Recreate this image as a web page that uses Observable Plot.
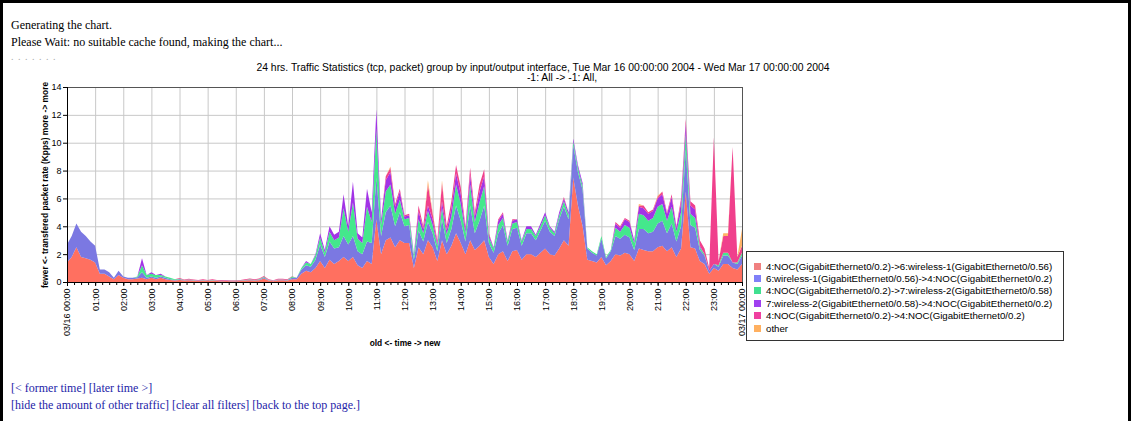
<!DOCTYPE html>
<html>
<head>
<meta charset="utf-8">
<script src="https://cdn.jsdelivr.net/npm/d3@7"></script>
<script src="https://cdn.jsdelivr.net/npm/@observablehq/plot@0.6"></script>
<style>
  html, body { margin: 0; padding: 0; background: #fff; }
  #page { position: relative; width: 1131px; height: 421px; overflow: hidden; background: #fff; }
  #frame { position: absolute; left: 0; top: 0; width: 1131px; height: 421px; box-sizing: border-box;
           border: 3px solid #000; border-bottom: none; pointer-events: none; }
  .serif { position: absolute; left: 11px; font-family: "Liberation Serif", "Times New Roman", serif;
           font-size: 12px; white-space: nowrap; color: #000; line-height: 1; }
  .link { color: #2424a8; }
  .sans { position: absolute; font-family: "Liberation Sans", Arial, sans-serif; white-space: nowrap; line-height: 1; color: #000; }
  .center { transform: translate(-50%, -50%); }
  #chart { position: absolute; left: 0; top: 0; }
  #legend { position: absolute; left: 746px; top: 251px; width: 318px; height: 90px; box-sizing: border-box;
            border: 1px solid #333; background: #fff; padding: 8px 0 0 7px;
            font-family: "Liberation Sans", Arial, sans-serif; font-size: 9.7px; }
  #legend .row { display: flex; align-items: center; height: 12.4px; white-space: nowrap; }
  #legend .sw { width: 7px; height: 7px; margin-right: 5px; flex: none; }
</style>
</head>
<body>
<div id="page">
  <div class="serif" style="top:19px;">Generating the chart.</div>
  <div class="serif" style="top:36px;">Please Wait: no suitable cache found, making the chart...</div>
  <div class="serif" style="top:52px;color:#aaa;font-size:10px;letter-spacing:1px;">. . . . . . .</div>

  <div id="chart"></div>

  <div class="sans center" style="left:543px;top:68px;font-size:10.4px;">24 hrs. Traffic Statistics (tcp, packet) group by input/output interface, Tue Mar 16 00:00:00 2004 - Wed Mar 17 00:00:00 2004</div>
  <div class="sans center" style="left:562px;top:78px;font-size:10.4px;">-1: All -&gt; -1: All,</div>
  <div class="sans center" style="left:45px;top:185px;font-size:8.4px;font-weight:bold;transform:translate(-50%,-50%) rotate(-90deg);">fewer &lt;- transfered packet rate (Kpps) more -&gt; more</div>
  <div class="sans center" style="left:405px;top:343px;font-size:8.4px;font-weight:bold;">old &lt;- time -&gt; new</div>

  <div id="legend"></div>

  <div class="serif link" style="top:382px;">[&lt; former time] [later time &gt;]</div>
  <div class="serif link" style="top:399px;">[hide the amount of other traffic] [clear all filters] [back to the top page.]</div>
  <div id="frame"></div>
</div>
<script>
// ---- data (10-minute samples, Tue Mar 16 2004 00:00 -> Wed Mar 17 2004 00:00) ----
const startTime = Date.UTC(2004, 2, 16, 0, 0);
const stepMinutes = 10;

const seriesNames = [
  "4:NOC(GigabitEthernet0/0.2)->6:wireless-1(GigabitEthernet0/0.56)",
  "6:wireless-1(GigabitEthernet0/0.56)->4:NOC(GigabitEthernet0/0.2)",
  "4:NOC(GigabitEthernet0/0.2)->7:wireless-2(GigabitEthernet0/0.58)",
  "7:wireless-2(GigabitEthernet0/0.58)->4:NOC(GigabitEthernet0/0.2)",
  "4:NOC(GigabitEthernet0/0.2)->4:NOC(GigabitEthernet0/0.2)",
  "other"
];
const seriesColors = ["#ff7060", "#7b78e2", "#44e88c", "#a233e6", "#f0408c", "#ffb366"];
const legendColors = ["#f08080", "#8080f8", "#40e090", "#a040f0", "#f040a0", "#ffb060"];

const noc_to_w1 = [
  1.4,1.8,2.5,1.8,1.7,1.6, 1.4,0.6,0.6,0.4,0.2,0.5, 0.3,0.2,0.2,0.25,0.3,0.2, 0.3,0.2,0.3,0.2,0.15,0.1,
  0.15,0.1,0.12,0.1,0.08,0.1, 0.07,0.1,0.07,0.06,0.08,0.06, 0.06,0.07,0.1,0.12,0.1,0.12, 0.25,0.1,0.06,0.12,0.12,0.1,
  0.2,0.2,0.6,0.8,0.7,1.0, 1.5,1.0,1.6,1.3,1.5,1.8, 1.5,1.8,1.2,1.0,1.5,1.3, 4.5,2.0,3.0,3.2,2.5,3.0,
  2.8,2.8,1.0,2.5,2.0,3.0, 2.5,1.5,3.0,2.0,2.6,3.5, 2.8,2.0,3.0,2.3,2.6,3.0, 1.8,1.3,2.0,2.2,1.5,2.2,
  2.3,1.6,2.0,2.0,1.8,2.1, 2.4,2.0,1.9,2.4,3.0,2.6, 7.5,5.5,4.0,1.6,1.5,1.4, 1.8,1.2,1.5,2.0,1.9,2.1,
  2.0,1.5,2.4,2.3,2.2,2.2, 2.5,2.6,2.2,2.5,1.8,2.4, 6.5,2.5,2.4,1.5,1.3,0.6, 1.0,0.8,1.3,1.3,1.0,0.9,
  1.3
];
const w1_to_noc = [
  1.3,1.5,1.7,1.8,1.6,1.3, 1.2,0.3,0.3,0.3,0.1,0.3, 0.1,0.1,0.1,0.1,0.4,0.1, 0.1,0.1,0.1,0.1,0.05,0.05,
  0.05,0.03,0.04,0.03,0.02,0.03, 0.02,0.03,0.02,0.02,0.02,0.02, 0.02,0.02,0.03,0.04,0.03,0.04, 0.08,0.03,0.02,0.04,0.04,0.03,
  0.1,0.1,0.3,0.4,0.4,0.6, 1.2,0.8,1.3,1.1,1.0,1.5, 1.2,1.5,1.0,1.0,1.4,1.5, 3.0,1.3,2.0,2.3,1.5,2.0,
  1.2,1.3,0.6,1.2,0.9,1.3, 1.0,0.7,1.5,0.8,1.2,2.0, 1.6,0.9,2.5,1.2,1.8,2.5, 1.0,0.8,1.5,1.9,1.1,1.6,
  1.6,1.0,1.5,1.5,1.2,1.6, 2.0,1.6,1.4,2.1,2.4,1.9, 2.3,2.4,2.6,0.8,0.6,0.5, 1.3,0.5,0.7,1.3,1.2,1.3,
  1.2,0.8,1.4,1.5,1.3,1.4, 1.7,1.8,1.3,1.7,1.1,1.6, 3.0,1.6,1.5,0.8,0.6,0.2, 0.3,0.3,0.6,0.6,0.4,0.4,
  0.6
];
const noc_to_w2 = [
  0,0,0,0,0,0, 0,0,0,0,0,0, 0,0,0,0.05,0.5,0.2, 0.2,0.2,0.1,0.1,0.1,0.05,
  0.03,0.02,0.02,0.02,0.01,0.02, 0.01,0.02,0.01,0.01,0.01,0.01, 0.01,0.01,0.02,0.03,0.02,0.03, 0.05,0.02,0.01,0.02,0.02,0.02,
  0.1,0,0.1,0.2,0.2,0.3, 0.5,0.3,0.7,0.6,0.7,2.0, 0.9,2.4,0.9,0.8,2.5,1.5, 3.5,0.8,1.5,1.5,0.9,0.9,
  0.5,0.5,0.3,0.8,0.6,0.8, 0.6,0.4,0.8,0.6,0.9,1.5, 1.2,0.6,1.5,0.8,1.3,1.4, 0.4,0.3,0.6,0.5,0.3,0.4,
  0.4,0.3,0.3,0.3,0.3,0.3, 0.4,0.3,0.2,0.3,0.4,0.3, 0.3,0.3,0.3,0.1,0.1,0.1, 0.2,0.1,0.1,0.6,0.5,0.7,
  0.7,0.5,1.1,1.0,0.9,1.0, 1.2,1.2,0.9,1.2,0.7,1.0, 1.2,0.8,0.7,0.2,0.1,0, 0,0.1,0.2,0.2,0,0.1,
  0.2
];
const w2_to_noc = [
  0,0,0,0,0,0, 0,0,0,0,0,0, 0,0,0,0,0.5,0, 0.1,0,0.1,0,0,0,
  0,0,0,0,0,0, 0,0,0,0,0,0, 0,0,0,0,0,0, 0,0,0,0,0,0,
  0,0,0,0.1,0,0.1, 0.3,0.2,0.4,0.4,0.4,1.0, 0.4,1.5,0.4,0.4,1.3,0.7, 1.4,0.4,0.8,0.9,0.5,0.6,
  0.2,0.2,0.1,0.6,0.3,0.4, 0.4,0.2,0.5,0.3,0.6,0.8, 0.7,0.3,0.7,0.4,0.8,0.7, 0.2,0.1,0.3,0.3,0.1,0.2,
  0.2,0.1,0.2,0.2,0.1,0.2, 0.2,0.1,0.1,0.2,0.2,0.2, 0.2,0.2,0.2,0,0,0, 0,0,0,0.3,0.3,0.4,
  0.4,0.2,0.5,0.5,0.5,0.5, 0.6,0.7,0.5,0.7,0.3,0.7, 0.7,0.6,0.6,0.1,0,0, 0,0,0,0,0,0,
  0
];
const noc_to_noc = [
  0,0,0,0,0,0, 0,0,0,0,0,0, 0,0,0,0,0,0, 0,0,0,0,0,0,
  0.05,0.03,0.05,0.03,0.04,0.05, 0.04,0.05,0.04,0.05,0.04,0.04, 0.04,0.05,0.05,0.06,0.05,0.06, 0.05,0.05,0.04,0.05,0.05,0.04,
  0.02,0,0,0,0,0, 0,0,0,0,0,0, 0,0,0,0,0,0, 0,0,0.3,0.3,0.2,0.2,
  0.1,0.1,0,0.4,0.2,1.5, 0.4,0.2,1.3,0.3,0.5,0.6, 0.5,0.2,0.5,0.3,0.5,0.5, 0.1,0,0.1,0.1,0,0.1,
  0,0,0,0,0,0, 0,0,0,0,0.1,0, 0,0,0,0,0,0, 0,0,0,0.1,0.1,0.1,
  0.1,0,0.1,0.2,0.1,0.1, 0.1,0.2,0.1,0.2,0.1,0.3, 0.3,0.3,0.3,0.4,0.4,0.2, 9.1,0.3,1.2,1.2,8.3,0.4,
  0.5
];
const other = [
  0,0,0,0,0,0, 0,0,0,0,0,0, 0,0,0,0,0,0, 0,0,0,0,0,0,
  0,0,0,0,0,0, 0,0,0,0,0,0, 0,0,0,0,0,0, 0,0,0,0,0,0,
  0,0,0,0,0,0, 0,0,0,0,0,0, 0,0,0,0,0,0, 0,0,0,0.1,0,0,
  0,0,0,0,0,0.3, 0.1,0,0.2,0,0,0, 0,0,0,0,0,0, 0,0,0,0,0,0,
  0,0,0,0,0,0, 0,0,0,0,0,0, 0,0,0,0,0,0, 0,0,0,0,0,0,
  0,0,0.1,0,0,0, 0.1,0,0,0,0,0, 0,0,0,0,0,0, 0,0,0.2,0.2,0,0,
  1.2
];
const yTickValues = [0, 2, 4, 6, 8, 10, 12, 14];

// ---- build table ----
const seriesValues = [noc_to_w1, w1_to_noc, noc_to_w2, w2_to_noc, noc_to_noc, other];
const times = noc_to_w1.map((_, i) => new Date(startTime + i * stepMinutes * 60000));
const rows = [];
seriesNames.forEach((name, k) => {
  seriesValues[k].forEach((v, i) => rows.push({time: times[i], series: name, value: v}));
});

const x0 = new Date(startTime);
const x1 = new Date(startTime + 24 * 3600e3);
const hourTicks = d3.utcHour.range(x0, new Date(+x1 + 1));
const minorTicks = d3.utcMinute.every(15).range(x0, new Date(+x1 + 1));
const pad = n => String(n).padStart(2, "0");
const fmt = d => d.getUTCHours() === 0
  ? `${pad(d.getUTCMonth() + 1)}/${pad(d.getUTCDate())} 00:00`
  : `${pad(d.getUTCHours())}:00`;

const chart = Plot.plot({
  width: 1131,
  height: 421,
  marginLeft: 67,
  marginRight: 389,
  marginTop: 87,
  marginBottom: 139,
  x: {type: "utc", domain: [x0, x1]},
  y: {domain: [0, 14]},
  color: {domain: seriesNames, range: seriesColors},
  style: {fontFamily: "'Liberation Sans', Arial, sans-serif", fontSize: "9px", color: "#000", background: "transparent"},
  marks: [
    Plot.gridY(yTickValues, {stroke: "#c8c8c8", strokeOpacity: 1}),
    Plot.gridX(hourTicks, {stroke: "#c8c8c8", strokeOpacity: 1}),
    Plot.areaY(rows, Plot.stackY({x: "time", y: "value", z: "series", fill: "series", order: null})),
    Plot.frame({stroke: "#555"}),
    Plot.axisY(yTickValues, {tickSize: 4, tickPadding: 2, label: null, fontSize: 9}),
    Plot.axisX(minorTicks, {tickSize: 3, tickFormat: () => "", label: null}),
    Plot.axisX(hourTicks, {tickSize: 4, tickPadding: 2, tickRotate: -90, tickFormat: fmt, label: null, fontSize: 9}),
    Plot.ruleY([0], {stroke: "#000"}),
    Plot.ruleX([x0], {stroke: "#000"})
  ]
});
document.getElementById("chart").appendChild(chart);

// ---- legend ----
const legend = document.getElementById("legend");
seriesNames.forEach((name, k) => {
  const row = document.createElement("div");
  row.className = "row";
  const sw = document.createElement("span");
  sw.className = "sw";
  sw.style.background = legendColors[k];
  const label = document.createElement("span");
  label.textContent = name;
  row.appendChild(sw);
  row.appendChild(label);
  legend.appendChild(row);
});
</script>
</body>
</html>
